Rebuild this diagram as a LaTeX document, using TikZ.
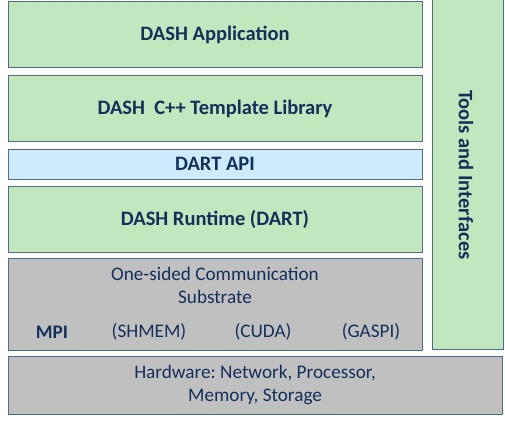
\documentclass[tikz,border=0pt]{standalone}
\usepackage{fontspec}
\setmainfont{Carlito}
\frenchspacing
\begin{document}
\begin{tikzpicture}[x=1pt,y=-1pt,
  layer/.style={draw=frame,line width=1pt},
  lbl/.style={text=txt,font=\fontsize{20.5}{24}\selectfont\bfseries},
  lbr/.style={text=txt,font=\fontsize{19.2}{23}\selectfont,align=center}]
\definecolor{frame}{HTML}{4F6C8A}
\definecolor{txt}{HTML}{14305A}
\definecolor{grn}{HTML}{C2E6BE}
\definecolor{blu}{HTML}{CDEBFD}
\definecolor{gry}{HTML}{C0C0C0}
\useasboundingbox (0,0) rectangle (505,423);
\draw[layer,fill=grn] (8,1) rectangle (422,67);
\node[lbl] (app) at (215,35) {DASH Application};
\draw[layer,fill=grn] (8,75) rectangle (422,141);
\node[lbl] (lib) at (215,109) {DASH\ \ C++ Template Library};
\draw[layer,fill=blu] (8,149) rectangle (422,179);
\node[lbl] (api) at (215,164) {DART API};
\draw[layer,fill=grn] (8,186) rectangle (422,252);
\node[lbl] (rt) at (215,219) {DASH Runtime (DART)};
\draw[layer,fill=gry] (8,258) rectangle (422,350);
\node[lbr] (comm) at (215,285) {One-sided Communication\\Substrate};
\node[lbl,font=\fontsize{19.2}{23}\selectfont\bfseries] (mpi) at (52,332) {MPI};
\node[lbr] (shmem) at (149,332) {(SHMEM)};
\node[lbr] (cuda) at (263,332) {(CUDA)};
\node[lbr] (gaspi) at (371,332) {(GASPI)};
\draw[layer,fill=gry] (8,356) rectangle (502,414);
\node[lbr] (hw) at (255,385) {Hardware: Network, Processor,\\Memory, Storage};
\draw[layer,fill=grn] (432,-2) rectangle (503,349);
\node[lbl,rotate=-90] (tools) at (466,175) {Tools and Interfaces};
\end{tikzpicture}
\end{document}
